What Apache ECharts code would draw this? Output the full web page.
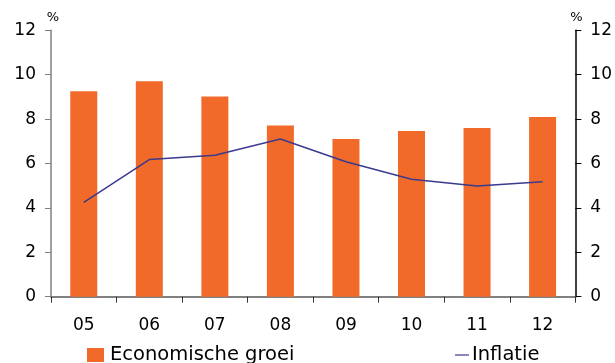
<!DOCTYPE html>
<html>
<head>
<meta charset="utf-8">
<script src="https://cdn.jsdelivr.net/npm/echarts@6/dist/echarts.min.js"></script>
<style>
  html, body { margin: 0; padding: 0; background: #fff; }
  #chart { width: 615px; height: 363px; }
</style>
</head>
<body>
<div id="chart"></div>
<script>
// Years (2005-2012) shown as two-digit labels
const categories = ['05', '06', '07', '08', '09', '10', '11', '12'];
// Economic growth, % per year
const growth = [9.25, 9.7, 9.02, 7.71, 7.1, 7.46, 7.6, 8.09];
// Inflation, % per year
const inflation = [4.25, 6.18, 6.37, 7.1, 6.08, 5.29, 4.99, 5.18];
// Value axis ticks
const yTicks = [0, 2, 4, 6, 8, 10, 12];

const FONT = 'DejaVu Sans';
const ORANGE = '#F26A2A';
const NAVY = '#3A3A8E';

const chart = echarts.init(document.getElementById('chart'), null, { renderer: 'canvas' });

const valueAxis = (pos, lineColor) => ({
  type: 'value',
  position: pos,
  min: yTicks[0],
  max: yTicks[yTicks.length - 1],
  interval: yTicks[1] - yTicks[0],
  name: '%',
  nameLocation: 'end',
  nameGap: 6,
  nameTextStyle: {
    fontFamily: FONT, fontSize: 13, color: '#000',
    align: 'center',
    padding: pos === 'left' ? [0, 0, 0, 4] : [0, 0, 0, 2]
  },
  axisLine: { show: true, lineStyle: { color: lineColor, width: 1.5 } },
  axisTick: { show: true, inside: false, length: 6, lineStyle: { color: lineColor, width: 1 } },
  axisLabel: { fontFamily: FONT, fontSize: 17, color: '#000', margin: 15 },
  splitLine: { show: false }
});

chart.setOption({
  animation: false,
  backgroundColor: '#fff',
  grid: { left: 51, right: 39, top: 30.3, bottom: 66.3, containLabel: false },
  xAxis: {
    type: 'category',
    data: categories,
    boundaryGap: true,
    axisLine: { show: true, lineStyle: { color: '#808080', width: 2 } },
    axisTick: { show: true, inside: false, length: 6, alignWithLabel: false, lineStyle: { color: '#333', width: 1 } },
    axisLabel: { fontFamily: FONT, fontSize: 17, color: '#000', margin: 20 }
  },
  yAxis: [valueAxis('left', '#808080'), valueAxis('right', '#000')],
  legend: [
    {
      data: ['Economische groei'],
      left: 87, top: 345, padding: 0,
      icon: 'rect', itemWidth: 17, itemHeight: 14, itemGap: 0,
      textStyle: { fontFamily: FONT, fontSize: 19.5, color: '#000', padding: [0, 0, 0, 1] }
    },
    {
      data: ['Inflatie'],
      left: 455, top: 345, padding: 0,
      icon: 'rect', itemWidth: 14, itemHeight: 1.2, itemGap: 0,
      textStyle: { fontFamily: FONT, fontSize: 19.5, color: '#000', padding: [0, 0, 0, -2] }
    }
  ],
  series: [
    {
      name: 'Economische groei',
      type: 'bar',
      data: growth,
      barWidth: 27,
      itemStyle: { color: ORANGE },
      yAxisIndex: 0,
      z: 1
    },
    {
      name: 'Inflatie',
      type: 'line',
      data: inflation,
      yAxisIndex: 0,
      symbol: 'none',
      lineStyle: { color: NAVY, width: 1.5 },
      itemStyle: { color: NAVY },
      z: 3
    }
  ]
});
</script>
</body>
</html>
